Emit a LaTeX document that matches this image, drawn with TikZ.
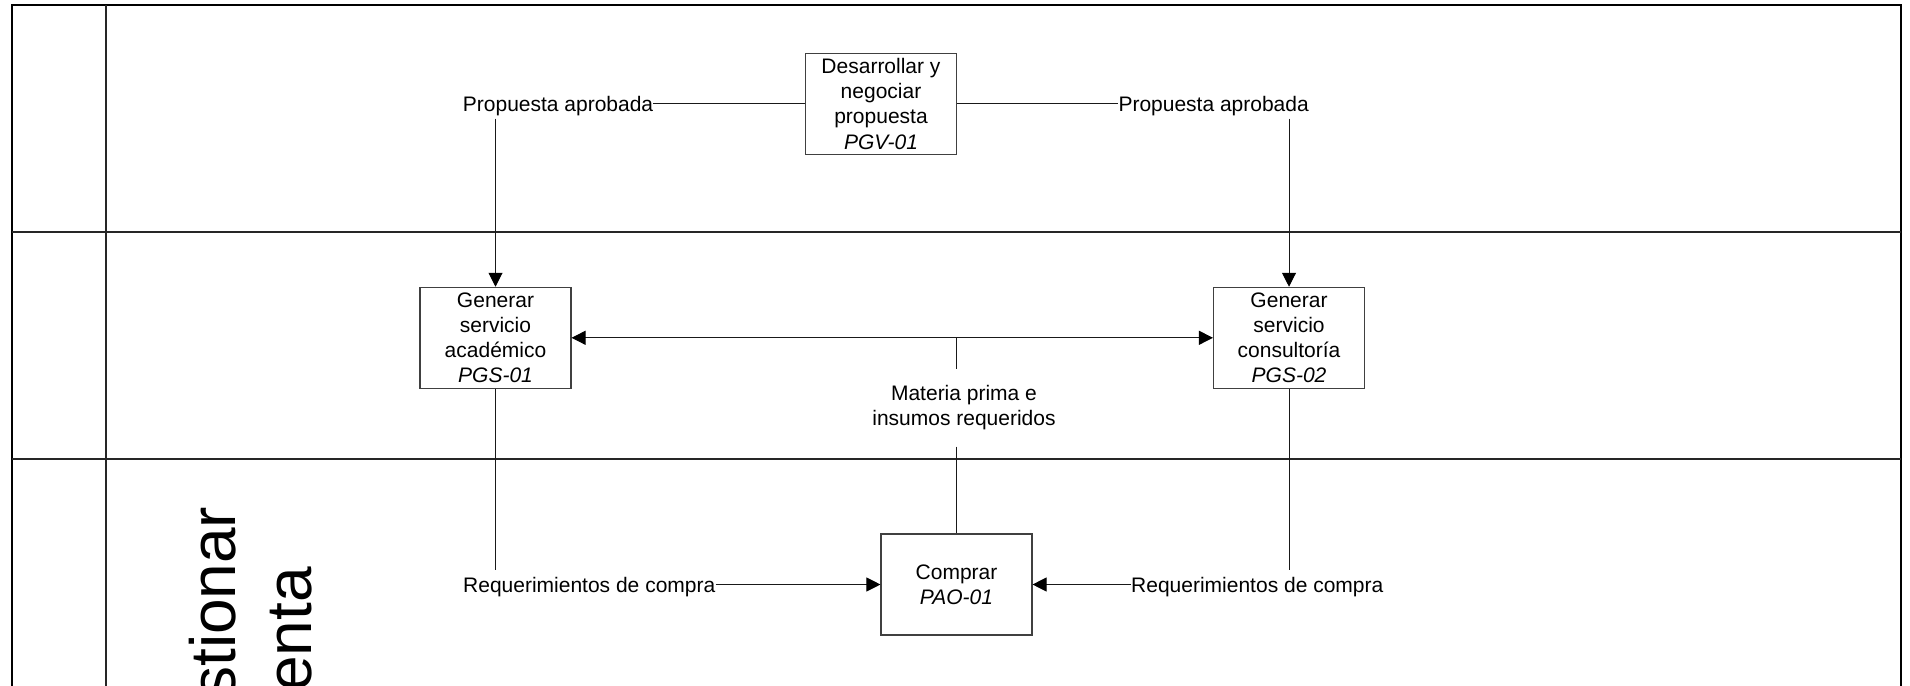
\documentclass[tikz,border=0pt]{standalone}
\usepackage{fontspec}
\setmainfont{Liberation Sans}
\usetikzlibrary{arrows.meta}
\begin{document}
\begin{tikzpicture}[x=1pt,y=-1pt,
  frame/.style={line width=2pt, black},
  lane/.style={line width=1.5pt, black!85},
  proc/.style={draw=black!75, line width=1.1pt, minimum width=151pt,
    minimum height=101pt, inner sep=0pt, align=center,
    font=\fontsize{21}{25.3}\selectfont},
  flowlabel/.style={inner xsep=0pt, inner ysep=7pt, text height=15pt,
    text depth=0pt, font=\fontsize{21}{24.5}\selectfont},
  conn/.style={line width=1pt, black!90},
  arr/.style={conn, -{Triangle[length=14pt,width=14pt,color=black]}},
  biarr/.style={conn, {Triangle[length=14pt,width=14pt,color=black]}-{Triangle[length=14pt,width=14pt,color=black]}},
  lanetitle/.style={rotate=90, anchor=base, inner sep=0pt,
    font=\fontsize{64}{77}\selectfont}
]
\path[use as bounding box] (0,0) rectangle (1910,685);
\clip (0,0) rectangle (1910,685);

% swimlane frame
\draw[frame] (12,700) -- (12,5) -- (1901,5) -- (1901,700);
\draw[lane] (106,5) -- (106,700);
\draw[lane] (12,232) -- (1901,232);
\draw[lane] (12,459) -- (1901,459);

% lane title (runs upward)
\node[lanetitle] (lanea) at (235,645.4) {Gestionar};
\node[lanetitle] (laneb) at (311.7,645.4) {venta};

% processes
\node[proc] (pgv)  at (881,103.8)   {Desarrollar y\\negociar\\propuesta\\\textit{PGV-01}};
\node[proc] (pgs1) at (495.5,337.8) {Generar\\servicio\\académico\\\textit{PGS-01}};
\node[proc] (pgs2) at (1289,337.8)  {Generar\\servicio\\consultoría\\\textit{PGS-02}};
\node[proc] (pao)  at (956.5,584.5) {Comprar\\\textit{PAO-01}};

% flow labels
\node[flowlabel, anchor=west] (pa1) at (462.7,103.8) {Propuesta aprobada};
\node[flowlabel, anchor=west] (pa2) at (1118.3,103.8) {Propuesta aprobada};
\node[flowlabel, anchor=west] (rc1) at (463,584.5) {Requerimientos de compra};
\node[flowlabel, anchor=west] (rc2) at (1131,584.5) {Requerimientos de compra};
\node[align=center, inner xsep=0pt, inner ysep=16.4pt,
  font=\fontsize{21}{25}\selectfont] (mp) at (964,407.7)
  {Materia prima e\\insumos requeridos};

% connectors
\draw[conn] (pa1.east) -- (pgv.west);
\draw[conn] (pgv.east) -- (pa2.west);
\draw[arr] (pa1.south -| pgs1.north) -- (pgs1.north);
\draw[arr] (pa2.south -| pgs2.north) -- (pgs2.north);
\draw[biarr] (pgs1.east) -- (pgs2.west);
\coordinate (mpj) at (pao.north |- pgs1.east);
\draw[conn] (mpj) -- (pao.north |- mp.north);
\draw[conn] (pao.north |- mp.south) -- (pao.north);
\draw[conn] (pgs1.south) -- (pgs1.south |- rc1.north);
\draw[arr] (rc1.east) -- (pao.west);
\draw[conn] (pgs2.south) -- (pgs2.south |- rc2.north);
\draw[arr] (rc2.west) -- (pao.east);
\end{tikzpicture}
\end{document}
